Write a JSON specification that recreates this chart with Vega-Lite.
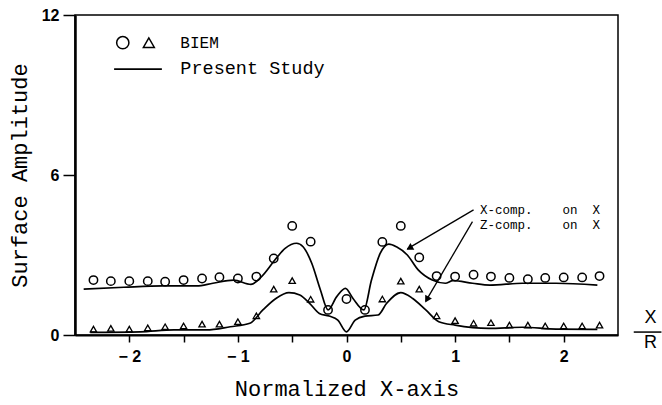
{
  "$schema": "https://vega.github.io/schema/vega-lite/v6.json",
  "width": 543,
  "height": 320,
  "autosize": "none",
  "padding": {"left": 75, "top": 15, "right": 44, "bottom": 70},
  "background": "white",
  "config": {
    "view": {"stroke": "black", "strokeWidth": 1.5},
    "axis": {"grid": false, "domainColor": "black", "tickColor": "black", "labelColor": "black", "titleColor": "black"},
    "point": {"opacity": 1}
  },
  "data": {"values": [{"k": 1}]},
  "datasets": {
    "lines": [
      {"series": "X-comp", "x": -2.42, "y": 1.72},
      {"series": "X-comp", "x": -2.05, "y": 1.79},
      {"series": "X-comp", "x": -1.69, "y": 1.84},
      {"series": "X-comp", "x": -1.38, "y": 1.84},
      {"series": "X-comp", "x": -1.23, "y": 1.94},
      {"series": "X-comp", "x": -1.04, "y": 2.06},
      {"series": "X-comp", "x": -0.88, "y": 1.9},
      {"series": "X-comp", "x": -0.78, "y": 2.2},
      {"series": "X-comp", "x": -0.66, "y": 2.81},
      {"series": "X-comp", "x": -0.565, "y": 3.25},
      {"series": "X-comp", "x": -0.46, "y": 3.44},
      {"series": "X-comp", "x": -0.4, "y": 3.31},
      {"series": "X-comp", "x": -0.32, "y": 2.69},
      {"series": "X-comp", "x": -0.24, "y": 1.69},
      {"series": "X-comp", "x": -0.17, "y": 0.94},
      {"series": "X-comp", "x": -0.09, "y": 1.44},
      {"series": "X-comp", "x": -0.01, "y": 1.75},
      {"series": "X-comp", "x": 0.06, "y": 1.37},
      {"series": "X-comp", "x": 0.16, "y": 0.94},
      {"series": "X-comp", "x": 0.23, "y": 2.06},
      {"series": "X-comp", "x": 0.31, "y": 3.06},
      {"series": "X-comp", "x": 0.39, "y": 3.41},
      {"series": "X-comp", "x": 0.46, "y": 3.31},
      {"series": "X-comp", "x": 0.56, "y": 3.0},
      {"series": "X-comp", "x": 0.66, "y": 2.44},
      {"series": "X-comp", "x": 0.79, "y": 2.06},
      {"series": "X-comp", "x": 0.91, "y": 1.94},
      {"series": "X-comp", "x": 0.98, "y": 2.04},
      {"series": "X-comp", "x": 1.16, "y": 1.94},
      {"series": "X-comp", "x": 1.32, "y": 1.87},
      {"series": "X-comp", "x": 1.62, "y": 1.94},
      {"series": "X-comp", "x": 1.93, "y": 1.94},
      {"series": "X-comp", "x": 2.31, "y": 1.87},
      {"series": "Z-comp", "x": -2.36, "y": 0.1},
      {"series": "Z-comp", "x": -1.9, "y": 0.12},
      {"series": "Z-comp", "x": -1.59, "y": 0.19},
      {"series": "Z-comp", "x": -1.29, "y": 0.19},
      {"series": "Z-comp", "x": -1.07, "y": 0.31},
      {"series": "Z-comp", "x": -0.89, "y": 0.44},
      {"series": "Z-comp", "x": -0.77, "y": 0.94},
      {"series": "Z-comp", "x": -0.65, "y": 1.37},
      {"series": "Z-comp", "x": -0.53, "y": 1.59},
      {"series": "Z-comp", "x": -0.43, "y": 1.5},
      {"series": "Z-comp", "x": -0.34, "y": 1.19},
      {"series": "Z-comp", "x": -0.25, "y": 0.81},
      {"series": "Z-comp", "x": -0.16, "y": 0.71},
      {"series": "Z-comp", "x": -0.08, "y": 0.56},
      {"series": "Z-comp", "x": 0.0, "y": 0.12},
      {"series": "Z-comp", "x": 0.08, "y": 0.56},
      {"series": "Z-comp", "x": 0.17, "y": 0.71},
      {"series": "Z-comp", "x": 0.29, "y": 0.75},
      {"series": "Z-comp", "x": 0.37, "y": 1.19},
      {"series": "Z-comp", "x": 0.5, "y": 1.59},
      {"series": "Z-comp", "x": 0.61, "y": 1.37},
      {"series": "Z-comp", "x": 0.73, "y": 0.94},
      {"series": "Z-comp", "x": 0.85, "y": 0.5},
      {"series": "Z-comp", "x": 1.0, "y": 0.37},
      {"series": "Z-comp", "x": 1.31, "y": 0.25},
      {"series": "Z-comp", "x": 1.62, "y": 0.29},
      {"series": "Z-comp", "x": 1.93, "y": 0.22},
      {"series": "Z-comp", "x": 2.31, "y": 0.21}
    ],
    "biem": [
      {"series": "X-comp", "x": -2.33, "y": 2.06},
      {"series": "X-comp", "x": -2.17, "y": 2.02},
      {"series": "X-comp", "x": -2.0, "y": 2.02},
      {"series": "X-comp", "x": -1.83, "y": 2.02},
      {"series": "X-comp", "x": -1.67, "y": 2.0},
      {"series": "X-comp", "x": -1.5, "y": 2.06},
      {"series": "X-comp", "x": -1.33, "y": 2.12},
      {"series": "X-comp", "x": -1.17, "y": 2.17},
      {"series": "X-comp", "x": -1.0, "y": 2.12},
      {"series": "X-comp", "x": -0.83, "y": 2.19},
      {"series": "X-comp", "x": -0.67, "y": 2.87},
      {"series": "X-comp", "x": -0.5, "y": 4.09},
      {"series": "X-comp", "x": -0.33, "y": 3.5},
      {"series": "X-comp", "x": -0.17, "y": 0.94},
      {"series": "X-comp", "x": 0.0, "y": 1.35},
      {"series": "X-comp", "x": 0.17, "y": 0.94},
      {"series": "X-comp", "x": 0.33, "y": 3.49},
      {"series": "X-comp", "x": 0.5, "y": 4.09},
      {"series": "X-comp", "x": 0.67, "y": 2.91},
      {"series": "X-comp", "x": 0.83, "y": 2.21},
      {"series": "X-comp", "x": 1.0, "y": 2.19},
      {"series": "X-comp", "x": 1.17, "y": 2.26},
      {"series": "X-comp", "x": 1.33, "y": 2.19},
      {"series": "X-comp", "x": 1.5, "y": 2.14},
      {"series": "X-comp", "x": 1.67, "y": 2.09},
      {"series": "X-comp", "x": 1.83, "y": 2.14},
      {"series": "X-comp", "x": 2.0, "y": 2.16},
      {"series": "X-comp", "x": 2.17, "y": 2.16},
      {"series": "X-comp", "x": 2.33, "y": 2.21},
      {"series": "Z-comp", "x": -2.33, "y": 0.22},
      {"series": "Z-comp", "x": -2.17, "y": 0.25},
      {"series": "Z-comp", "x": -2.0, "y": 0.22},
      {"series": "Z-comp", "x": -1.83, "y": 0.27},
      {"series": "Z-comp", "x": -1.67, "y": 0.31},
      {"series": "Z-comp", "x": -1.5, "y": 0.34},
      {"series": "Z-comp", "x": -1.33, "y": 0.41},
      {"series": "Z-comp", "x": -1.17, "y": 0.41},
      {"series": "Z-comp", "x": -1.0, "y": 0.5},
      {"series": "Z-comp", "x": -0.83, "y": 0.72},
      {"series": "Z-comp", "x": -0.67, "y": 1.72},
      {"series": "Z-comp", "x": -0.5, "y": 2.04},
      {"series": "Z-comp", "x": -0.33, "y": 1.34},
      {"series": "Z-comp", "x": 0.33, "y": 1.35},
      {"series": "Z-comp", "x": 0.5, "y": 2.02},
      {"series": "Z-comp", "x": 0.67, "y": 1.72},
      {"series": "Z-comp", "x": 0.83, "y": 0.72},
      {"series": "Z-comp", "x": 1.0, "y": 0.54},
      {"series": "Z-comp", "x": 1.17, "y": 0.44},
      {"series": "Z-comp", "x": 1.33, "y": 0.46},
      {"series": "Z-comp", "x": 1.5, "y": 0.37},
      {"series": "Z-comp", "x": 1.67, "y": 0.37},
      {"series": "Z-comp", "x": 1.83, "y": 0.34},
      {"series": "Z-comp", "x": 2.0, "y": 0.34},
      {"series": "Z-comp", "x": 2.17, "y": 0.34},
      {"series": "Z-comp", "x": 2.33, "y": 0.37}
    ]
  },
  "layer": [
    {
      "data": {"name": "lines"},
      "mark": {"type": "line", "color": "black", "strokeWidth": 1.7, "interpolate": "monotone"},
      "encoding": {
        "x": {"field": "x", "type": "quantitative",
          "scale": {"domain": [-2.5, 2.5], "nice": false, "zero": false},
          "axis": {"title": "Normalized X-axis", "values": [-2, -1.5, -1, -0.5, 0, 0.5, 1, 1.5, 2],
            "labelExpr": "datum.value == -2 ? '\u2212 2' : datum.value == -1 ? '\u2212 1' : datum.value == 0 ? '0' : datum.value == 1 ? '1' : datum.value == 2 ? '2' : ''",
            "labelFont": "Liberation Sans", "labelFontWeight": "bold", "labelFontSize": 16, "labelPadding": 6,
            "tickSize": 7, "tickWidth": 1.5, "domainWidth": 2,
            "titleFont": "Liberation Mono", "titleFontWeight": "normal", "titleFontSize": 22, "titlePadding": 14}},
        "y": {"field": "y", "type": "quantitative",
          "scale": {"domain": [0, 12], "nice": false},
          "axis": {"title": "Surface Amplitude", "values": [0, 6, 12],
            "labelFont": "Liberation Sans", "labelFontWeight": "bold", "labelFontSize": 16, "labelPadding": 4,
            "tickSize": 12, "tickWidth": 1.5, "domainWidth": 2.5,
            "titleFont": "Liberation Mono", "titleFontWeight": "normal", "titleFontSize": 22, "titlePadding": 10}},
        "detail": {"field": "series"}
      }
    },
    {
      "data": {"name": "biem"},
      "transform": [{"filter": "datum.series == 'X-comp'"}],
      "mark": {"type": "point", "shape": "circle", "filled": false, "stroke": "black", "strokeWidth": 1.5, "size": 70, "opacity": 1},
      "encoding": {
        "x": {"field": "x", "type": "quantitative"},
        "y": {"field": "y", "type": "quantitative"}
      }
    },
    {
      "data": {"name": "biem"},
      "transform": [{"filter": "datum.series == 'Z-comp'"}],
      "mark": {"type": "point", "shape": "triangle-up", "filled": false, "stroke": "black", "strokeWidth": 1.3, "size": 40, "opacity": 1},
      "encoding": {
        "x": {"field": "x", "type": "quantitative"},
        "y": {"field": "y", "type": "quantitative"}
      }
    },
    {
      "mark": {"type": "point", "shape": "circle", "filled": false, "stroke": "black", "strokeWidth": 1.5, "size": 150, "opacity": 1},
      "encoding": {"x": {"datum": -2.06}, "y": {"datum": 10.96}}
    },
    {
      "mark": {"type": "point", "shape": "triangle-up", "filled": false, "stroke": "black", "strokeWidth": 1.5, "size": 120, "opacity": 1},
      "encoding": {"x": {"datum": -1.82}, "y": {"datum": 10.96}}
    },
    {
      "mark": {"type": "text", "text": "BIEM", "font": "Liberation Mono", "fontSize": 16, "align": "left", "baseline": "middle"},
      "encoding": {"x": {"datum": -1.53}, "y": {"datum": 10.96}}
    },
    {
      "mark": {"type": "rule", "color": "black", "strokeWidth": 1.7},
      "encoding": {"x": {"datum": -2.14}, "x2": {"datum": -1.7}, "y": {"datum": 9.97}}
    },
    {
      "mark": {"type": "text", "text": "Present Study", "font": "Liberation Mono", "fontSize": 18.5, "align": "left", "baseline": "middle"},
      "encoding": {"x": {"datum": -1.53}, "y": {"datum": 10.0}}
    },
    {
      "mark": {"type": "text", "text": "X-comp.\u00a0\u00a0\u00a0\u00a0on\u00a0\u00a0X", "font": "Liberation Mono", "fontSize": 12.5, "align": "left", "baseline": "middle"},
      "encoding": {"x": {"datum": 1.23}, "y": {"datum": 4.7}}
    },
    {
      "mark": {"type": "text", "text": "Z-comp.\u00a0\u00a0\u00a0\u00a0on\u00a0\u00a0X", "font": "Liberation Mono", "fontSize": 12.5, "align": "left", "baseline": "middle"},
      "encoding": {"x": {"datum": 1.23}, "y": {"datum": 4.12}}
    },
    {
      "mark": {"type": "rule", "color": "black", "strokeWidth": 1.3},
      "encoding": {"x": {"datum": 1.17}, "x2": {"datum": 0.56}, "y": {"datum": 4.69}, "y2": {"datum": 3.23}}
    },
    {
      "mark": {"type": "rule", "color": "black", "strokeWidth": 1.3},
      "encoding": {"x": {"datum": 1.16}, "x2": {"datum": 0.73}, "y": {"datum": 4.25}, "y2": {"datum": 1.27}}
    },
    {
      "mark": {"type": "point", "shape": "triangle-up", "filled": true, "color": "black", "size": 60, "angle": 239.5, "opacity": 1},
      "encoding": {"x": {"datum": 0.58}, "y": {"datum": 3.26}}
    },
    {
      "mark": {"type": "point", "shape": "triangle-up", "filled": true, "color": "black", "size": 60, "angle": 210, "opacity": 1},
      "encoding": {"x": {"datum": 0.74}, "y": {"datum": 1.33}}
    },
    {
      "mark": {"type": "text", "text": "X", "font": "Liberation Sans", "fontSize": 18, "align": "center", "baseline": "middle"},
      "encoding": {"x": {"datum": 2.8}, "y": {"datum": 0.64}}
    },
    {
      "mark": {"type": "text", "text": "R", "font": "Liberation Sans", "fontSize": 18, "align": "center", "baseline": "middle"},
      "encoding": {"x": {"datum": 2.8}, "y": {"datum": -0.3}}
    },
    {
      "mark": {"type": "rule", "color": "black", "strokeWidth": 1.5},
      "encoding": {"x": {"datum": 2.645}, "x2": {"datum": 2.9}, "y": {"datum": 0.11}}
    }
  ]
}
